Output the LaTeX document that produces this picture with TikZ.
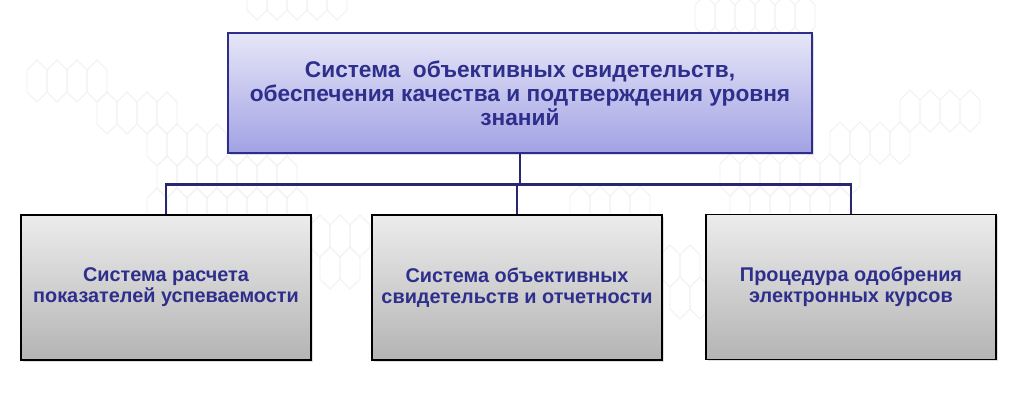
\documentclass[tikz,border=0pt]{standalone}
\usepackage{fontspec}
\setmainfont{Liberation Sans}
\usetikzlibrary{shadows,calc}
\definecolor{navy}{RGB}{40,40,112}
\definecolor{txtblue}{RGB}{46,46,140}
\definecolor{topbord}{RGB}{45,45,140}
\definecolor{hexgray}{RGB}{240,240,240}
\tikzset{
  hexline/.style={draw=hexgray, line width=0.6pt},
  topbox/.style={draw=topbord, line width=1.1pt, top color={rgb,255:red,230;green,230;blue,248}, bottom color={rgb,255:red,162;green,162;blue,228},
    minimum width=438pt, minimum height=90pt, inner sep=0pt, align=center,
    font=\bfseries\fontsize{17}{18}\selectfont, text=txtblue,
    drop shadow={shadow xshift=1.5pt, shadow yshift=-1.5pt, opacity=0.25}},
  subbox/.style={draw=black, line width=1.1pt, top color={rgb,255:red,236;green,236;blue,236}, bottom color={rgb,255:red,180;green,180;blue,180},
    minimum width=217.5pt, minimum height=108.75pt, inner sep=0pt, align=center,
    font=\bfseries\fontsize{14.9}{15.6}\selectfont, text=txtblue,
    drop shadow={shadow xshift=1.5pt, shadow yshift=-1.5pt, opacity=0.25}},
  conn/.style={draw=navy, line width=2.2pt}
}
\newcommand\hexrow[3]{%
  \foreach \hk in {1,...,#3} {
    \draw[hexline] ({#1+20*(\hk-1)},#2) -- ++(10,10) -- ++(0,22) -- ++(-10,10) -- ++(-10,-10) -- ++(0,-22) -- cycle;
  }}
\begin{document}
\begin{tikzpicture}[x=0.75pt,y=-0.75pt]
\useasboundingbox (0,0) rectangle (1014,402);
\fill[white] (0,0) rectangle (1014,402);
% faint background hexagons
\begin{scope}
\clip (0,0) rectangle (1014,402);
\hexrow{257}{-22}{5}
\hexrow{37}{60}{4}
\hexrow{107}{92}{4}
\hexrow{157}{124}{7}
\hexrow{167}{156}{7}
\hexrow{157}{188}{8}
\hexrow{705}{-5}{6}
\hexrow{910}{90}{4}
\hexrow{840}{122}{4}
\hexrow{730}{154}{7}
\hexrow{740}{186}{6}
\hexrow{580}{186}{4}
\hexrow{320}{215}{3}
\hexrow{330}{247}{2}
\hexrow{670}{245}{2}
\hexrow{680}{277}{2}
\end{scope}
% nodes
\node[topbox] (top) at (520,93) {Система\ \ объективных свидетельств,\\обеспечения качества и подтверждения уровня\\знаний};
\node[subbox] (b1) at (166,287.5) {Система расчета\\показателей успеваемости};
\node[subbox] (b2) at (517,287.5) {Система объективных\\свидетельств и отчетности};
\node[subbox] (b3) at (851,287) {Процедура одобрения\\электронных курсов};
% connectors
\draw[conn] (top.south) -- ++(0,31) coordinate (j);
\draw[conn] (b1.north) |- (j) -| (b3.north);
\draw[conn] (b2.north) -- (b2.north |- j);
\end{tikzpicture}
\end{document}
